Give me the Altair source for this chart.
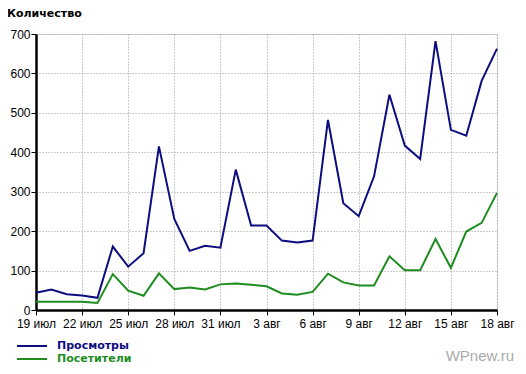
import altair as alt
import pandas as pd

series_names = ["Просмотры", "Посетители"]
series_colors = ["#0d0d80", "#1f8c1f"]

tick_labels = ["19 июл", "22 июл", "25 июл", "28 июл", "31 июл", "3 авг",
               "6 авг", "9 авг", "12 авг", "15 авг", "18 авг"]

views = [44, 52, 40, 37, 31, 161, 110, 144, 415, 231, 150, 163, 158, 356, 214, 214,
         176, 171, 176, 482, 271, 238, 339, 546, 417, 383, 682, 457, 442, 581, 663]
visitors = [21, 21, 21, 21, 18, 91, 49, 36, 93, 53, 57, 52, 65, 67, 64, 60,
            42, 39, 46, 92, 70, 62, 62, 136, 101, 101, 180, 107, 199, 221, 297]

days = list(range(len(views)))
rows = []
for d, v in zip(days, views):
    rows.append({"day": d, "value": v, "series": series_names[0]})
for d, v in zip(days, visitors):
    rows.append({"day": d, "value": v, "series": series_names[1]})
df = pd.DataFrame(rows)

label_arr = "[" + ",".join("'" + t + "'" for t in tick_labels) + "]"

x_axis = alt.Axis(
    values=list(range(0, 31, 3)),
    labelExpr=label_arr + "[round(datum.value / 3)]",
    title=None, grid=True, gridColor="#999999", gridDash=[1, 2], gridWidth=1,
    domainColor="#000000", domainWidth=2.5, tickColor="#000000", tickSize=5,
    labelFont="Liberation Sans", labelFontSize=12, labelColor="#000000",
    labelPadding=3, labelFlush=False, labelOverlap=False,
)
y_axis = alt.Axis(
    values=list(range(0, 701, 100)),
    title=None, grid=True, gridColor="#999999", gridDash=[1, 2], gridWidth=1,
    domainColor="#000000", domainWidth=2.5, tickColor="#000000", tickSize=5,
    labelFont="Liberation Sans", labelFontSize=12, labelColor="#000000",
    labelPadding=1, labelFlush=False,
)

lines = alt.Chart(df).mark_line(strokeWidth=2).encode(
    x=alt.X("day:Q", scale=alt.Scale(domain=[0, 30], nice=False), axis=x_axis),
    y=alt.Y("value:Q", scale=alt.Scale(domain=[0, 700], nice=False), axis=y_axis),
    color=alt.Color("series:N", scale=alt.Scale(domain=series_names, range=series_colors), legend=None),
)

legend_layers = []
for i, (name, col) in enumerate(zip(series_names, series_colors)):
    ypix = 312 + 13 * i
    ldf = pd.DataFrame({"series": [name]})
    legend_layers.append(
        alt.Chart(ldf).mark_rule(stroke=col, strokeWidth=2).encode(
            x=alt.value(-19), x2=alt.value(11), y=alt.value(ypix)
        )
    )
    legend_layers.append(
        alt.Chart(ldf).mark_text(
            align="left", baseline="middle", font="DejaVu Sans", fontWeight="bold",
            fontSize=11, color=col
        ).encode(x=alt.value(21), y=alt.value(ypix), text="series:N")
    )

wm = alt.Chart(pd.DataFrame({"t": ["WPnew.ru"]})).mark_text(
    align="right", baseline="alphabetic", font="Liberation Sans", fontSize=15,
    color="#aaaaaa"
).encode(x=alt.value(478), y=alt.value(327), text="t:N")

chart = alt.layer(lines, *legend_layers, wm).properties(
    width=461, height=276,
    autosize=alt.AutoSizeParams(type="none"),
    padding={"left": 28, "top": 26, "right": 20, "bottom": 56},
    title=alt.TitleParams(
        text="Количество", anchor="start", frame="group", dx=-29, offset=9,
        font="DejaVu Sans", fontSize=11, fontWeight="bold", color="#000000",
    ),
).configure_view(
    fill="#f4f4f4", stroke=None
).configure(background="#ffffff")

chart.save("out.html", embed_options={"renderer": "svg", "actions": False})
